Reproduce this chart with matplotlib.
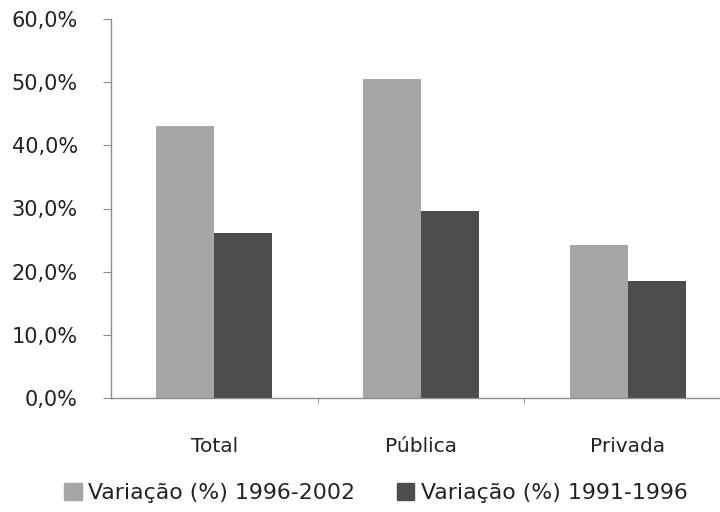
import matplotlib
matplotlib.use("Agg")
import matplotlib.pyplot as plt
import matplotlib.patches as mpatches
import numpy as np

plt.rcParams['font.family'] = ['DejaVu Sans']

categorias = ['Total', 'Pública', 'Privada']
var_1996_2002 = [43.0, 50.5, 24.2]
var_1991_1996 = [26.2, 29.6, 18.6]
series_nomes = ['Variação (%) 1996-2002', 'Variação (%) 1991-1996']
cor_clara = '#a6a6a6'
cor_escura = '#4d4d4d'

fig = plt.figure(figsize=(7.2, 5.12), dpi=100)
ax = fig.add_axes([111 / 720, 114 / 512, 620 / 720, 379 / 512])

x = np.arange(len(categorias))
w = 0.28
ax.bar(x - w / 2, var_1996_2002, w, color=cor_clara)
ax.bar(x + w / 2, var_1991_1996, w, color=cor_escura)

ax.set_xlim(-0.5, 2.5)
ax.set_ylim(0, 60)
ax.set_yticks(np.arange(0, 61, 10))
ax.yaxis.set_major_formatter(plt.FuncFormatter(lambda v, p: ('%.1f%%' % v).replace('.', ',')))
ax.set_xticks(x)
ax.set_xticklabels(categorias)
ax.set_xticks([0.5, 1.5], minor=True)

for s in ['top', 'right']:
    ax.spines[s].set_visible(False)
for s in ['left', 'bottom']:
    ax.spines[s].set_color('#8c8c8c')
    ax.spines[s].set_linewidth(1.0)

ax.tick_params(axis='y', length=6, color='#8c8c8c', pad=18, labelsize=15, labelcolor='#222222')
ax.tick_params(axis='x', which='major', length=0, pad=28, labelsize=14.5, labelcolor='#222222')
ax.tick_params(axis='x', which='minor', length=4, color='#8c8c8c')

handles = [mpatches.Patch(color=cor_clara, label=series_nomes[0]),
           mpatches.Patch(color=cor_escura, label=series_nomes[1])]
fig.legend(handles=handles, loc='center', bbox_to_anchor=(0.522, 19 / 512), ncol=2,
           frameon=False, fontsize=15.8, handlelength=0.8, handleheight=0.8,
           handletextpad=0.3, columnspacing=1.9, borderpad=0, labelcolor='#222222')

fig.savefig('out.png', dpi=100)
